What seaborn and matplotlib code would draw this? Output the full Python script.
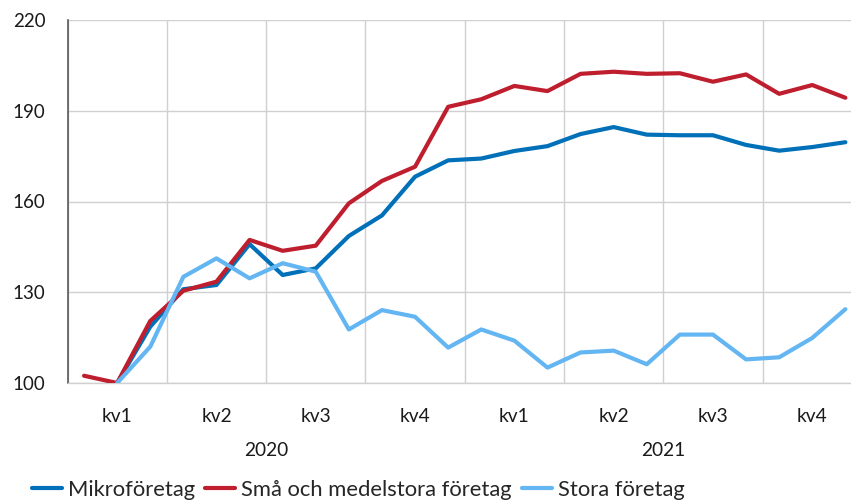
import numpy as np
import pandas as pd
import matplotlib
matplotlib.use("Agg")
import matplotlib.pyplot as plt
import matplotlib.transforms as mtransforms
import seaborn as sns

# Monthly index values, Jan 2020 - Dec 2021
months = list(range(24))
mikro = [np.nan, 100.0, 118.6, 131.0, 132.4, 145.9, 135.7, 137.9, 148.6, 155.4, 168.2, 173.6,
         174.2, 176.7, 178.3, 182.3, 184.6, 182.1, 181.9, 181.9, 178.7, 176.8, 178.0, 179.6]
sma_medel = [102.4, 100.0, 120.5, 130.5, 133.5, 147.3, 143.7, 145.4, 159.4, 166.8, 171.5, 191.3,
             193.8, 198.2, 196.5, 202.2, 202.9, 202.2, 202.4, 199.6, 202.0, 195.6, 198.5, 194.3]
stora = [np.nan, 100.0, 112.0, 135.1, 141.2, 134.6, 139.6, 136.8, 117.7, 124.1, 121.9, 111.7,
         117.7, 114.0, 105.1, 110.1, 110.7, 106.2, 116.0, 116.0, 107.8, 108.5, 114.9, 124.4]

series_names = ["Mikroföretag", "Små och medelstora företag", "Stora företag"]
series_colors = ["#0070B8", "#BE1E2D", "#63B6F2"]
quarter_labels = ["kv1", "kv2", "kv3", "kv4", "kv1", "kv2", "kv3", "kv4"]
years = ["2020", "2021"]
y_ticks = [100, 130, 160, 190, 220]

df = pd.concat([
    pd.DataFrame({"month": months, "value": vals, "series": name})
    for name, vals in zip(series_names, [mikro, sma_medel, stora])
], ignore_index=True)

sns.set_theme(style="white")
plt.rcParams["font.family"] = ["Lato", "DejaVu Sans"]

fig = plt.figure(figsize=(8.51, 5.0), dpi=100)
ax = fig.add_axes([67.5 / 851, 1 - 383 / 500, 1 - 67.5 / 851, 363 / 500])

sns.lineplot(data=df, x="month", y="value", hue="series", hue_order=series_names,
             palette=series_colors, linewidth=3.0, ax=ax, legend=False, zorder=3)

# quarter boundaries carry the vertical gridlines
ax.set_xticks(np.arange(-0.5, 24, 3))
ax.set_xticklabels([])
ax.set_yticks(y_ticks)
ax.set_yticklabels([str(t) for t in y_ticks], fontsize=13.5, color="#1a1a1a")
ax.set_ylim(100, 220)
ax.set_xlim(-0.5, 23.17)
ax.set_xlabel("")
ax.set_ylabel("")

ax.grid(True, axis="both", color="#D0D0D0", linewidth=1.0, zorder=0)
ax.tick_params(axis="y", direction="in", length=7, width=1.2, color="#595959", pad=16)
ax.tick_params(axis="x", length=0)
for side in ["top", "right"]:
    ax.spines[side].set_visible(False)
ax.spines["left"].set_color("#595959")
ax.spines["left"].set_linewidth(1.2)
ax.spines["bottom"].set_color("#D0D0D0")
ax.spines["bottom"].set_linewidth(1.0)

trans = mtransforms.blended_transform_factory(ax.transData, ax.transAxes)
for i, lab in enumerate(quarter_labels):
    ax.text(3 * i + 1, -34 / 363, lab, transform=trans, ha="center", va="center",
            fontsize=13.8, color="#1a1a1a")
for j, yr in enumerate(years):
    ax.text(12 * j + 5.5, -67 / 363, yr, transform=trans, ha="center", va="center",
            fontsize=13.8, color="#1a1a1a")

handles = [plt.Line2D([], [], color=c, linewidth=3.0) for c in series_colors]
fig.legend(handles, series_names, loc="center left", bbox_to_anchor=(32 / 851, 1 - 490 / 500),
           ncol=3, frameon=False, fontsize=15.8, handlelength=1.35, handletextpad=0.3,
           columnspacing=0.45, borderpad=0, borderaxespad=0)

fig.savefig("out.png", dpi=100)
